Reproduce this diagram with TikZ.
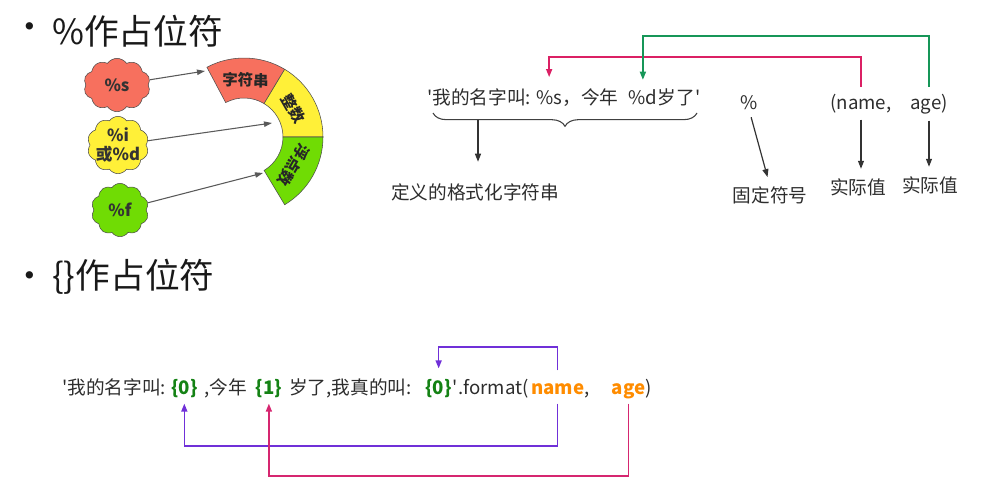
\documentclass[tikz,border=0pt]{standalone}
\usepackage{fontspec}
\setmainfont{Noto Sans CJK SC}
\usetikzlibrary{arrows.meta,positioning,shapes.symbols,decorations.pathreplacing,calc}
\definecolor{txt}{RGB}{45,45,45}
\definecolor{redfill}{RGB}{247,112,94}
\definecolor{yelfill}{RGB}{255,240,56}
\definecolor{grnfill}{RGB}{112,220,4}
\definecolor{pinkline}{RGB}{219,32,100}
\definecolor{grnline}{RGB}{22,150,88}
\definecolor{purline}{RGB}{112,48,216}
\definecolor{rosline}{RGB}{214,38,112}
\definecolor{keygreen}{RGB}{20,130,20}
\definecolor{argorange}{RGB}{255,140,0}

\begin{document}
\begin{tikzpicture}[x=0.75pt, y=-0.75pt,
    title/.style={font=\fontsize{26}{30}\selectfont, text=black!90, inner sep=0pt},
    body/.style={font=\fontsize{14}{17}\selectfont, text=txt, inner sep=0pt},
    seg/.style={body, anchor=base west, text height=11pt, text depth=3pt},
    key/.style={font=\fontsize{14}{17}\selectfont\bfseries, text=keygreen},
    argname/.style={font=\fontsize{14}{17}\selectfont\bfseries, text=argorange},
    blob/.style={cloud, cloud puffs=10, cloud puff arc=110, aspect=1.2,
                 draw=black!70, fill=#1, inner sep=0pt},
    blobtext/.style={align=center, inner sep=0pt,
                 font=\fontsize{12.5}{14}\selectfont\bfseries, text=black!80},
    arc/.style={font=\fontsize{11.5}{13}\selectfont\bfseries, text=black!85},
    arr/.style={-{Triangle[length=6pt,width=4.5pt]}, line width=0.9pt, black!80},
    garr/.style={-{Triangle[length=6pt,width=4pt]}, line width=0.8pt, black!65},
    link/.style={-{Triangle[length=6pt,width=4.5pt]}, line width=1.1pt, draw=#1}
]
\path[use as bounding box] (0,0) rectangle (999,490);

% % as placeholder
\node[title] (dot1) at (30,31) {•};
\node[title, anchor=west] (head1) at (52,31) {\%作占位符};

\node[blob=redfill, minimum width=50pt, minimum height=40pt,
      label={[blobtext]center:\%s}] (cs) at (117,85) {};
\node[blob=yelfill, minimum width=46pt, minimum height=43pt,
      label={[blobtext]center:\%i\\或\%d}] (cid) at (118,145) {};
\node[blob=grnfill, minimum width=43pt, minimum height=40pt,
      label={[blobtext]center:\%f}] (cf) at (120,210) {};

\begin{scope}[shift={(244,137)}, yscale=-1]
  \foreach \a/\b/\col/\lab/\rot in {118/59/redfill/字符串/-1, 59/0/yelfill/整数/-60, 0/-59/grnfill/浮点数/-120} {
    \draw[black!70, fill=\col] (\a:39) -- (\a:79) arc[start angle=\a, end angle=\b, radius=79]
      -- (\b:39) arc[start angle=\b, end angle=\a, radius=39] -- cycle;
    \node[arc, rotate=\rot] at ({(\a+\b)/2}:57) {\lab};
  }
\end{scope}
\coordinate (tS) at (205,71);
\coordinate (tI) at (272,123);
\coordinate (tF) at (263,173);
\draw[garr] (cs) -- (tS);
\draw[garr] (cid) -- (tI);
\draw[garr] (cf) -- (tF);

% format string with %
\node[seg] (fa) at (427,104) {\textquotesingle 我的名字叫:\hspace*{3.5pt}};
\node[seg] (fs) at (fa.base east) {\%s};
\node[seg] (fb) at (fs.base east) {，今年\hspace*{7pt}};
\node[seg] (fd) at (fb.base east) {\%d};
\node[seg] (fc) at (fd.base east) {岁了\textquotesingle};

\draw[black!75, line width=0.8pt, decorate, decoration={brace, mirror, amplitude=10pt}]
    (433,113) -- (697,113);
\coordinate (brc) at (478,120);
\node[body] (defl) at (475,192) {定义的格式化字符串};
\draw[arr, shorten >=16pt] (brc) -- (brc |- defl.north);

\node[body, anchor=base] (pct) at (749,109) {\%};
\node[body] (fix) at (770,195) {固定符号};
\draw[arr, shorten <=6pt, shorten >=7pt] (pct.south) -- (fix.north);

\node[body, anchor=base] (nm) at (861,109) {(name,};
\node[body, anchor=base] (ag) at (929,109) {age)};
\node[body] (v1) at (858,187) {实际值};
\node[body] (v2) at (930,185) {实际值};
\draw[arr, shorten <=5pt, shorten >=7pt] (nm.south) -- (nm.south |- v1.north);
\draw[arr, shorten <=5pt, shorten >=7pt] (ag.south) -- (ag.south |- v2.north);

\coordinate (pkl) at (0,57);
\coordinate (gnl) at (0,36);
\draw[link=pinkline, shorten <=5pt, shorten >=9pt] (nm.north) -- (nm.north |- pkl) -| (fs.north);
\draw[link=grnline, shorten <=5pt, shorten >=7pt] (ag.north) -- (ag.north |- gnl) -| (fd.north);

% {} as placeholder
\node[title] (dot2) at (30,280) {•};
\node[title, anchor=west] (head2) at (52,277) {\{\}作占位符};

\node[seg] (ga) at (62,394) {\textquotesingle 我的名字叫:\hspace*{3.5pt}};
\node[seg, key] (k0) at (ga.base east) {\{0\}};
\node[seg] (gb) at (k0.base east) {\hspace*{5pt},今年\hspace*{6pt}};
\node[seg, key] (k1) at (gb.base east) {\{1\}};
\node[seg] (gc) at (k1.base east) {\hspace*{5pt}岁了,我真的叫:\hspace*{10pt}};
\node[seg, key] (k2) at (gc.base east) {\{0\}};
\node[seg] (gd) at (k2.base east) {\hspace*{0.5pt}\textquotesingle.format(\hspace*{1.5pt}};
\node[seg, argname] (an) at (gd.base east) {name};
\node[seg] (ge) at (an.base east) {,\hspace*{16pt}};
\node[seg, argname] (aa) at (ge.base east) {age};
\node[seg] (gf) at (aa.base east) {)};

\coordinate (pul) at (0,347);
\coordinate (pdl) at (0,446);
\coordinate (rdl) at (0,476);
\draw[link=purline, shorten <=6.5pt, shorten >=8pt] (an.north) -- (an.north |- pul) -| (k2.north);
\draw[link=purline, shorten <=4pt, shorten >=4pt] (an.south) -- (an.south |- pdl) -| (k0.south);
\draw[link=rosline, shorten <=4pt, shorten >=4pt] (aa.south) -- (aa.south |- rdl) -| (k1.south);
\end{tikzpicture}
\end{document}
